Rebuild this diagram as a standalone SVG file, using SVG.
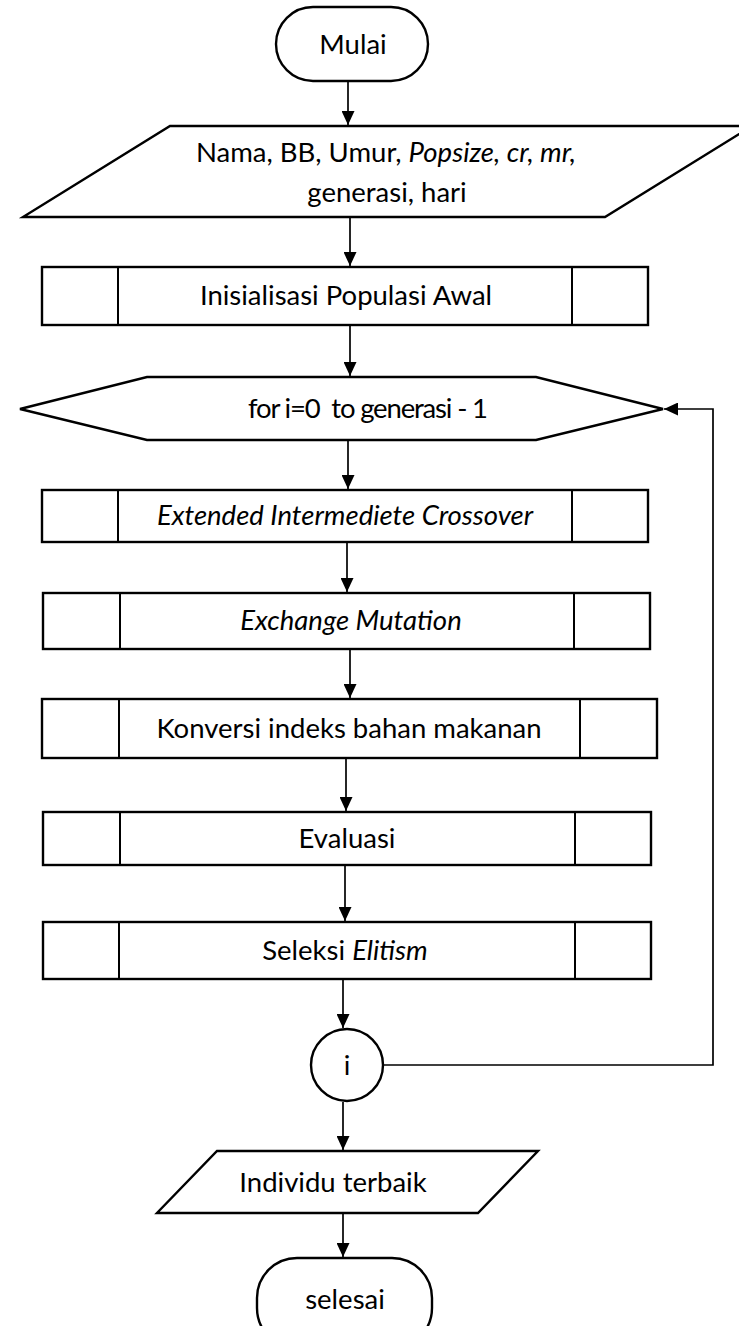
<svg xmlns="http://www.w3.org/2000/svg" width="739" height="1326" viewBox="0 0 739 1326">
  <style>
    .shape { fill: #ffffff; stroke: #000000; stroke-width: 2.4; }
    .div { stroke: #000000; stroke-width: 2; }
    .conn { fill: none; stroke: #000000; stroke-width: 1.7; }
    .lbl { font-family: Lato, "Liberation Sans", sans-serif; font-size: 27.5px; fill: #000000; text-anchor: middle; }
    .it { font-style: italic; }
    .pre { white-space: pre; }
  </style>
  <defs>
    <marker id="arrow" viewBox="0 0 14 13" refX="14" refY="6.5" markerWidth="14" markerHeight="13" markerUnits="userSpaceOnUse" orient="auto">
      <path d="M0,0 L14,6.5 L0,13 Z" fill="#000000"/>
    </marker>
  </defs>
  <rect width="739" height="1326" fill="#ffffff"/>

  <!-- connectors -->
  <g id="connectors">
    <line class="conn" x1="348" y1="81" x2="348" y2="125" marker-end="url(#arrow)"/>
    <line class="conn" x1="350" y1="217" x2="350" y2="266" marker-end="url(#arrow)"/>
    <line class="conn" x1="350" y1="325" x2="350" y2="376" marker-end="url(#arrow)"/>
    <line class="conn" x1="348" y1="440" x2="348" y2="489" marker-end="url(#arrow)"/>
    <line class="conn" x1="347" y1="542" x2="347" y2="592" marker-end="url(#arrow)"/>
    <line class="conn" x1="350" y1="649" x2="350" y2="698" marker-end="url(#arrow)"/>
    <line class="conn" x1="346" y1="758" x2="346" y2="811" marker-end="url(#arrow)"/>
    <line class="conn" x1="345" y1="865" x2="345" y2="921" marker-end="url(#arrow)"/>
    <line class="conn" x1="343" y1="979" x2="343" y2="1028" marker-end="url(#arrow)"/>
    <line class="conn" x1="343" y1="1102" x2="343" y2="1150" marker-end="url(#arrow)"/>
    <line class="conn" x1="343" y1="1213" x2="343" y2="1257" marker-end="url(#arrow)"/>
    <polyline class="conn" points="383,1065 713,1065 713,409 664,409" marker-end="url(#arrow)"/>
  </g>

  <!-- start terminal -->
  <g id="start">
    <rect class="shape" x="276" y="7" width="152" height="74" rx="37" ry="37"/>
    <text class="lbl" x="353" y="54">Mulai</text>
  </g>

  <!-- input data -->
  <g id="input">
    <polygon class="shape" points="170,126 752,126 605,217 23,217"/>
    <text class="lbl" x="386" y="162">Nama, BB, Umur, <tspan class="it">Popsize, cr, mr,</tspan></text>
    <text class="lbl" x="387" y="202">generasi, hari</text>
  </g>

  <!-- initial population -->
  <g id="init">
    <rect class="shape" x="42" y="267" width="606" height="58"/>
    <line class="div" x1="118" y1="267" x2="118" y2="325"/>
    <line class="div" x1="572" y1="267" x2="572" y2="325"/>
    <text class="lbl" x="346" y="305">Inisialisasi Populasi Awal</text>
  </g>

  <!-- loop -->
  <g id="loop">
    <polygon class="shape" points="20,409 147,377 536,377 663,409 536,440 147,440"/>
    <text class="lbl pre" x="368" y="418" textLength="240" lengthAdjust="spacing">for i=0  to generasi - 1</text>
  </g>

  <!-- crossover -->
  <g id="crossover">
    <rect class="shape" x="42" y="490" width="606" height="52"/>
    <line class="div" x1="118" y1="490" x2="118" y2="542"/>
    <line class="div" x1="572" y1="490" x2="572" y2="542"/>
    <text class="lbl it" x="345" y="525">Extended Intermediete Crossover</text>
  </g>

  <!-- mutation -->
  <g id="mutation">
    <rect class="shape" x="43" y="593" width="607" height="56"/>
    <line class="div" x1="120" y1="593" x2="120" y2="649"/>
    <line class="div" x1="574" y1="593" x2="574" y2="649"/>
    <text class="lbl it" x="351" y="630">Exchange Mutation</text>
  </g>

  <!-- conversion -->
  <g id="conversion">
    <rect class="shape" x="42" y="699" width="615" height="59"/>
    <line class="div" x1="119" y1="699" x2="119" y2="758"/>
    <line class="div" x1="580" y1="699" x2="580" y2="758"/>
    <text class="lbl" x="349" y="738">Konversi indeks bahan makanan</text>
  </g>

  <!-- evaluation -->
  <g id="evaluation">
    <rect class="shape" x="43" y="812" width="608" height="53"/>
    <line class="div" x1="120" y1="812" x2="120" y2="865"/>
    <line class="div" x1="575" y1="812" x2="575" y2="865"/>
    <text class="lbl" x="347" y="848">Evaluasi</text>
  </g>

  <!-- selection -->
  <g id="selection">
    <rect class="shape" x="43" y="922" width="608" height="57"/>
    <line class="div" x1="119" y1="922" x2="119" y2="979"/>
    <line class="div" x1="575" y1="922" x2="575" y2="979"/>
    <text class="lbl" x="345" y="960">Seleksi <tspan class="it">Elitism</tspan></text>
  </g>

  <!-- loop connector -->
  <g id="loop-end">
    <circle class="shape" cx="347" cy="1065" r="36"/>
    <text class="lbl" x="347" y="1075">i</text>
  </g>

  <!-- output -->
  <g id="output">
    <polygon class="shape" points="217,1151 538,1151 478,1213 157,1213"/>
    <text class="lbl" x="333" y="1192">Individu terbaik</text>
  </g>

  <!-- end terminal -->
  <g id="end">
    <rect class="shape" x="257" y="1258" width="175" height="90" rx="40" ry="40"/>
    <text class="lbl" x="345" y="1309">selesai</text>
  </g>
</svg>
